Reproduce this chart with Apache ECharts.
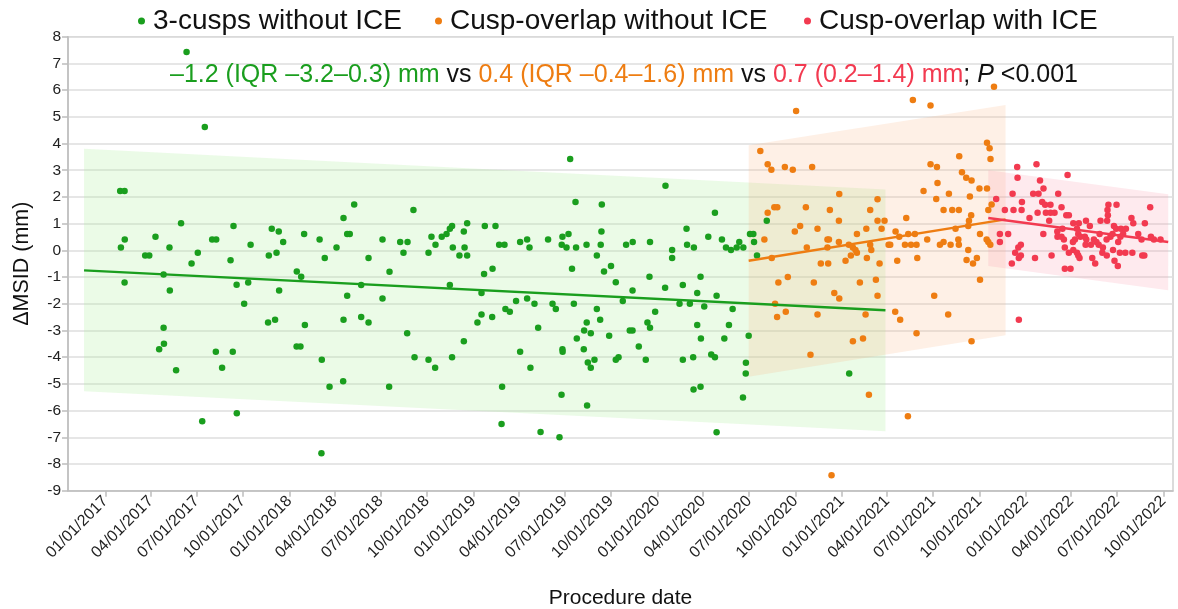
<!DOCTYPE html>
<html>
<head>
<meta charset="utf-8">
<script src="https://cdn.jsdelivr.net/npm/echarts@6/dist/echarts.min.js"></script>
<style>
html,body{margin:0;padding:0;background:#fff;}
#chart{width:1178px;height:609px;}
</style>
</head>
<body>
<div id="chart"></div>
<script>
// ---- DATA (procedure date as decimal year, ΔMSID in mm) ----
const seriesNames = ['3-cusps without ICE', 'Cusp-overlap without ICE', 'Cusp-overlap with ICE'];

const threeCuspsPoints = [
[2017.441,7.43],[2017.540,4.62],[2017.080,2.22],[2017.104,2.22],[2017.411,1.01],[2017.696,0.91],[2017.105,0.41],[2017.084,0.11],[2017.272,0.51],[2017.348,0.11],
[2017.580,0.41],[2017.602,0.41],[2017.502,-0.09],[2017.216,-0.19],[2017.238,-0.19],[2017.680,-0.37],[2017.789,0.21],[2017.904,0.81],[2017.942,0.71],[2017.966,0.31],
[2017.888,-0.19],[2017.930,-0.09],[2018.080,0.61],[2018.164,0.41],[2018.192,-0.29],[2018.256,0.11],[2017.468,-0.49],[2017.104,-1.20],[2017.316,-0.90],[2017.350,-1.50],
[2017.713,-1.29],[2017.776,-1.20],[2017.754,-2.00],[2018.040,-0.79],[2018.064,-0.99],[2017.944,-1.50],[2017.884,-2.70],[2017.922,-2.60],[2018.084,-2.80],[2017.316,-2.90],
[2017.318,-3.50],[2017.292,-3.70],[2017.600,-3.80],[2017.692,-3.80],[2017.634,-4.40],[2017.384,-4.49],[2018.039,-3.60],[2018.060,-3.60],[2018.176,-4.10],[2018.218,-5.11],
[2017.714,-6.10],[2017.526,-6.40],[2018.174,-7.60],
[2019.526,3.42],[2019.555,1.81],[2019.698,1.72],[2018.352,1.72],[2018.674,1.51],[2018.294,1.21],[2018.314,0.61],[2018.328,0.61],[2018.506,0.41],[2018.602,0.31],
[2018.642,0.31],[2018.620,-0.09],[2018.430,-0.29],[2018.756,-0.09],[2018.772,0.51],[2018.794,0.21],[2018.828,0.51],[2018.854,0.61],[2018.872,0.81],[2018.884,0.91],
[2018.966,1.01],[2018.948,0.71],[2018.888,0.11],[2018.952,0.11],[2018.924,-0.19],[2018.966,-0.19],[2019.062,0.91],[2019.120,0.91],[2019.140,0.21],[2019.169,0.21],
[2019.254,0.31],[2019.292,0.41],[2019.305,0.11],[2019.406,0.41],[2019.484,0.51],[2019.517,0.61],[2019.480,0.21],[2019.506,0.11],[2019.558,0.11],[2019.615,0.21],
[2019.696,0.71],[2019.692,0.21],[2019.671,-0.19],
[2018.544,-0.80],[2018.390,-1.30],[2018.314,-1.70],[2018.506,-1.80],[2018.294,-2.60],[2018.390,-2.50],[2018.430,-2.70],[2018.640,-3.10],[2018.680,-4.00],[2018.756,-4.10],
[2018.792,-4.40],[2018.884,-4.00],[2018.292,-4.90],[2018.542,-5.11],[2018.872,-1.30],[2019.058,-0.89],[2019.104,-0.69],[2019.044,-1.60],[2019.044,-2.40],[2019.022,-2.70],
[2019.102,-2.50],[2018.948,-3.40],[2019.174,-2.20],[2019.198,-2.30],[2019.232,-1.90],[2019.292,-1.80],[2019.332,-2.00],[2019.352,-2.90],[2019.254,-3.80],[2019.310,-4.40],
[2019.156,-5.11],[2019.153,-6.50],[2019.365,-6.80],[2019.468,-7.00],[2019.430,-2.00],[2019.448,-2.20],[2019.536,-0.69],[2019.546,-2.00],[2019.484,-3.70],[2019.485,-3.80],
[2019.479,-5.41],[2019.562,-3.30],[2019.602,-3.00],[2019.616,-2.70],[2019.638,-3.10],[2019.600,-3.70],[2019.658,-4.10],[2019.622,-4.20],[2019.638,-4.40],[2019.618,-5.81],
[2019.671,-2.20],[2019.689,-2.60],[2019.738,-3.20],[2019.710,-0.79],[2019.748,-0.59],[2019.774,-1.19],[2019.774,-4.10],[2019.789,-4.00],
[2020.044,2.42],[2019.830,0.21],[2019.866,0.31],[2019.960,0.31],[2020.080,0.01],[2020.080,-0.29],[2020.158,0.81],[2020.312,1.41],[2020.161,0.21],[2020.198,0.11],
[2020.276,0.51],[2020.350,0.41],[2020.372,0.11],[2020.399,0.01],[2020.430,0.11],[2020.444,0.31],[2020.466,0.11],[2020.502,0.61],[2020.520,0.61],[2020.593,1.11],
[2020.524,0.31],[2020.540,-0.19],
[2019.957,-0.99],[2019.865,-1.50],[2019.812,-1.90],[2020.042,-1.40],[2020.138,-1.30],[2020.234,-0.99],[2020.216,-1.60],[2020.321,-1.70],[2020.120,-2.00],[2020.176,-2.00],
[2020.254,-2.10],[2019.988,-2.30],[2020.408,-2.20],[2019.946,-2.70],[2019.960,-2.90],[2019.850,-3.00],[2019.865,-3.00],[2019.899,-3.60],[2019.937,-4.10],[2020.216,-2.80],
[2020.236,-3.30],[2020.388,-2.80],[2020.363,-3.30],[2020.495,-3.20],[2020.138,-4.10],[2020.194,-4.00],[2020.292,-3.90],[2020.312,-4.00],[2020.480,-4.21],[2020.479,-4.61],
[2020.464,-5.51],[2020.196,-5.21],[2020.234,-5.11],[2020.321,-6.81],[2021.040,-4.61]
];

const overlapNoIcePoints = [
[2020.752,5.22],[2020.558,3.72],[2020.598,3.22],[2020.618,3.02],[2020.691,3.12],[2020.734,3.02],[2020.839,3.12],[2020.598,1.41],[2020.634,1.61],[2020.650,1.61],
[2020.580,0.41],[2020.745,0.71],[2020.774,0.91],[2020.805,1.61],[2020.868,0.81],[2020.810,0.11],[2020.986,2.11],[2020.935,1.51],[2020.984,1.11],[2020.922,0.41],
[2020.930,0.41],[2020.922,0.11],[2020.984,0.31],[2021.038,0.21],[2021.060,0.11],[2021.082,0.61],[2021.133,0.81],[2021.074,0.01],[2021.082,-0.09],[2021.154,1.51],
[2021.194,1.91],[2021.194,1.11],[2021.232,1.11],[2021.216,0.81],[2021.154,0.21],[2021.160,0.01],[2021.254,0.21],[2021.263,0.21],[2021.292,0.71],[2021.049,-0.19],
[2021.136,-0.29],
[2020.620,-0.29],[2020.656,-1.20],[2020.707,-1.00],[2020.638,-2.00],[2020.649,-2.50],[2020.696,-2.30],[2020.848,-1.20],[2020.868,-2.40],[2020.886,-0.49],[2020.926,-0.49],
[2020.830,-3.91],[2020.959,-1.60],[2020.986,-1.80],[2021.020,-0.39],[2021.098,-1.20],[2021.205,-0.49],[2021.185,-1.10],[2021.194,-1.70],[2021.129,-2.40],[2021.060,-3.40],
[2021.115,-3.30],[2021.147,-5.41],[2020.944,-8.42],[2021.290,-2.30],[2021.317,-2.60],[2021.301,-0.39],
[2021.827,6.13],[2021.386,5.63],[2021.482,5.42],[2021.789,4.03],[2021.803,3.82],[2021.808,3.42],[2021.638,3.52],[2021.482,3.22],[2021.517,3.12],[2021.653,2.92],
[2021.676,2.72],[2021.705,2.62],[2021.520,2.52],[2021.444,2.22],[2021.582,2.12],[2021.748,2.32],[2021.789,2.32],[2021.696,2.02],[2021.513,1.92],[2021.814,1.72],
[2021.350,1.21],[2021.553,1.51],[2021.600,1.51],[2021.636,1.51],[2021.703,1.31],[2021.796,1.51],[2021.691,1.11],[2021.618,0.81],[2021.687,0.91],[2021.751,0.61],
[2021.361,0.61],[2021.397,0.61],[2021.312,0.51],[2021.343,0.21],[2021.376,0.21],[2021.406,0.21],[2021.464,0.41],[2021.533,0.21],[2021.553,0.31],[2021.591,0.21],
[2021.633,0.41],[2021.636,0.21],[2021.687,0.01],[2021.787,0.41],[2021.796,0.31],[2021.807,0.21],[2021.410,-0.29],[2021.678,-0.36],[2021.734,-0.29],[2021.713,-0.49],
[2021.751,-1.10],[2021.502,-1.70],[2021.578,-2.40],[2021.406,-3.10],[2021.705,-3.40],[2021.359,-6.21]
];

const overlapIcePoints = [
[2022.058,3.22],[2021.953,3.12],[2021.955,2.72],[2022.227,2.82],[2022.077,2.62],[2022.096,2.32],[2022.040,2.12],[2022.069,2.12],[2021.928,2.12],[2022.176,2.12],
[2021.839,1.92],[2021.886,1.51],[2021.933,1.51],[2021.977,1.51],[2021.979,1.81],[2022.089,1.81],[2022.105,1.71],[2022.134,1.71],[2022.064,1.41],[2022.109,1.41],
[2022.134,1.41],[2022.156,1.41],[2022.020,1.21],[2022.127,1.11],[2022.194,1.61],[2022.220,1.31],[2022.234,1.31],[2022.258,1.01],[2022.288,1.01],[2022.327,1.11],
[2022.348,0.91],[2022.406,1.11],[2022.444,1.51],[2022.446,1.31],[2022.449,1.71],[2022.493,1.71],[2022.442,1.11],[2022.574,1.21],[2022.584,1.01],[2022.647,1.01],
[2022.676,1.61],[2022.479,0.91],[2022.491,0.81],[2022.517,0.81],[2022.544,0.81],[2022.199,0.81],[2022.171,0.71],[2022.172,0.51],[2022.278,0.81],[2022.285,0.61],
[2022.297,0.51],[2022.321,0.51],[2022.194,0.51],[2022.207,0.41],[2022.095,0.61],[2021.859,0.61],[2021.904,0.61],[2021.859,0.31],[2022.401,0.61],[2022.439,0.41],
[2022.460,0.51],[2022.471,0.61],[2022.370,0.41],[2022.384,0.31],[2022.256,0.31],[2022.267,0.41],[2022.329,0.41],[2022.325,0.21],[2022.354,0.21],[2022.396,0.21],
[2022.419,0.11],[2022.502,0.31],[2022.514,0.51],[2022.529,0.61],[2022.611,0.61],[2022.629,0.41],[2022.680,0.51],[2022.696,0.41],[2022.732,0.41],[2021.942,-0.09],
[2021.959,0.11],[2021.973,0.21],[2022.258,0.01],[2022.278,-0.09],[2022.285,-0.19],[2022.212,0.11],[2022.234,-0.09],[2022.416,-0.09],[2022.440,-0.19],[2022.474,0.01],
[2022.541,-0.09],[2022.579,-0.09],[2022.633,-0.19],[2022.140,-0.19],[2021.973,-0.19],[2021.962,-0.29],[2021.924,-0.49],[2022.050,-0.29],[2022.292,-0.29],[2022.212,-0.69],
[2022.243,-0.69],[2022.361,-0.29],[2022.377,-0.49],[2022.482,-0.39],[2022.500,-0.59],[2022.511,-0.09],[2022.644,-0.19],[2021.962,-2.60]
];

// regression lines: [start, end]
const threeCuspsTrendDate = [2016.884, 2021.237];
const threeCuspsTrendMsid = [-0.75, -2.24];
const overlapNoIceTrendDate = [2020.495, 2021.890];
const overlapNoIceTrendMsid = [-0.39, 1.16];
const overlapIceTrendDate = [2021.796, 2022.774];
const overlapIceTrendMsid = [1.21, 0.31];

// prediction bands: [start, end]
const threeCuspsBandLow = [-5.28, -6.77];
const threeCuspsBandHigh = [3.80, 2.28];
const overlapNoIceBandLow = [-4.73, -3.18];
const overlapNoIceBandHigh = [3.94, 5.44];
const overlapIceBandLow = [-0.59, -1.49];
const overlapIceBandHigh = [3.00, 2.10];

const xTickLabels = ['01/01/2017','04/01/2017','07/01/2017','10/01/2017','01/01/2018','04/01/2018','07/01/2018','10/01/2018',
  '01/01/2019','04/01/2019','07/01/2019','10/01/2019','01/01/2020','04/01/2020','07/01/2020','10/01/2020',
  '01/01/2021','04/01/2021','07/01/2021','10/01/2021','01/01/2022','04/01/2022','07/01/2022','10/01/2022'];
const xRange = [2016.797, 2022.800];

// ---- helpers ----
const DAY = 86400000;
function yearToTime(y) {
  const yr = Math.floor(y);
  const s = Date.UTC(yr, 0, 1), e = Date.UTC(yr + 1, 0, 1);
  return (s + (y - yr) * (e - s)) / DAY;   // days since epoch
}
function labelToTime(s) {
  const p = s.split('/');
  return Date.UTC(+p[2], +p[0] - 1, +p[1]) / DAY;
}
const tickTimes = xTickLabels.map(labelToTime);
const toData = pts => pts.map(p => [yearToTime(p[0]), p[1]]);
const trend = (d, v) => d.map((x, i) => [yearToTime(x), v[i]]);

const GREEN = '#1a9e1e', ORANGE = '#ee7d12', RED = '#f23a50';
const FONT = '"Liberation Sans", Arial, Helvetica, sans-serif';

function bandSeries(dates, low, high, fill) {
  const data = dates.map((d, i) => [yearToTime(d), low[i], high[i]]);
  return {
    type: 'custom', silent: true, z: 1,
    encode: { x: 0, y: [1, 2] },
    data: data,
    renderItem: function (params, api) {
      if (params.dataIndex !== 0) return null;
      const pts = [
        api.coord([data[0][0], data[0][2]]),
        api.coord([data[1][0], data[1][2]]),
        api.coord([data[1][0], data[1][1]]),
        api.coord([data[0][0], data[0][1]])
      ];
      return { type: 'polygon', shape: { points: pts }, style: { fill: fill } };
    }
  };
}
function lineSeries(data, color) {
  return {
    type: 'line', data: data, symbol: 'none', z: 5, silent: true,
    lineStyle: { color: color, width: 2.5 }
  };
}
function scatterSeries(name, data, color) {
  return {
    name: name, type: 'scatter', data: data, symbolSize: 6.5, z: 3,
    itemStyle: { color: color, opacity: 1 }
  };
}
function legendItem(name, left) {
  return {
    data: [name], left: left, top: 2,
    icon: 'circle', itemWidth: 7, itemHeight: 7,
    textStyle: { fontSize: 28, color: '#111', fontFamily: FONT, padding: [0, 0, 0, 3] }
  };
}

const chart = echarts.init(document.getElementById('chart'), null, { renderer: 'canvas' });
chart.setOption({
  animation: false,
  backgroundColor: '#fff',
  textStyle: { fontFamily: FONT },
  title: {
    left: 165, top: 58,
    text: '{g|\u20131.2 (IQR \u20133.2\u20130.3) mm} {k|vs} {o|0.4 (IQR \u20130.4\u20131.6) mm} {k|vs} {r|0.7 (0.2\u20131.4) mm}{k|; }{p|P}{k| <0.001}',
    textStyle: {
      fontSize: 25, fontFamily: FONT, fontWeight: 'normal',
      rich: {
        g: { color: GREEN, fontSize: 25, fontFamily: FONT },
        o: { color: ORANGE, fontSize: 25, fontFamily: FONT },
        r: { color: RED, fontSize: 25, fontFamily: FONT },
        k: { color: '#111', fontSize: 25, fontFamily: FONT },
        p: { color: '#111', fontSize: 25, fontFamily: FONT, fontStyle: 'italic' }
      }
    }
  },
  legend: [
    legendItem(seriesNames[0], 133),
    legendItem(seriesNames[1], 430),
    legendItem(seriesNames[2], 799)
  ],
  grid: { left: 68, right: 5, top: 36.7, bottom: 118.3, outerBoundsMode: 'none', containLabel: false,
          show: true, borderColor: '#cfcfcf', borderWidth: 1.5 },
  xAxis: {
    type: 'value',
    min: yearToTime(xRange[0]), max: yearToTime(xRange[1]),
    name: 'Procedure date', nameLocation: 'middle', nameGap: 97,
    nameTextStyle: { fontSize: 21, color: '#111', fontFamily: FONT },
    axisLine: { show: true, onZero: false, lineStyle: { color: '#bdbdbd', width: 1.5 } },
    axisTick: { show: true, length: 6, customValues: tickTimes, lineStyle: { color: '#bdbdbd', width: 1.5 } },
    axisLabel: {
      customValues: tickTimes, rotate: 45, fontSize: 16, color: '#222', margin: 8, fontFamily: FONT,
      formatter: function (val) {
        let best = 0;
        for (let i = 1; i < tickTimes.length; i++) {
          if (Math.abs(tickTimes[i] - val) < Math.abs(tickTimes[best] - val)) best = i;
        }
        return xTickLabels[best];
      }
    },
    splitLine: { show: false }
  },
  yAxis: {
    type: 'value', min: -9, max: 8, interval: 1,
    name: '\u0394MSID (mm)', nameLocation: 'middle', nameGap: 35, nameRotate: 90,
    nameTextStyle: { fontSize: 21.5, color: '#111', fontFamily: FONT },
    axisLine: { show: true, onZero: false, lineStyle: { color: '#bdbdbd', width: 1.5 } },
    axisTick: { show: true, length: 6, lineStyle: { color: '#bdbdbd', width: 1.5 } },
    axisLabel: { fontSize: 15.5, color: '#222', margin: 7, fontFamily: FONT },
    splitLine: { show: true, lineStyle: { color: '#dedede', width: 1.5 } }
  },
  series: [
    bandSeries(threeCuspsTrendDate, threeCuspsBandLow, threeCuspsBandHigh, 'rgba(176,240,160,0.25)'),
    bandSeries(overlapNoIceTrendDate, overlapNoIceBandLow, overlapNoIceBandHigh, 'rgba(250,180,130,0.2)'),
    bandSeries(overlapIceTrendDate, overlapIceBandLow, overlapIceBandHigh, 'rgba(250,150,170,0.2)'),
    scatterSeries(seriesNames[0], toData(threeCuspsPoints), GREEN),
    scatterSeries(seriesNames[1], toData(overlapNoIcePoints), ORANGE),
    scatterSeries(seriesNames[2], toData(overlapIcePoints), RED),
    lineSeries(trend(threeCuspsTrendDate, threeCuspsTrendMsid), GREEN),
    lineSeries(trend(overlapNoIceTrendDate, overlapNoIceTrendMsid), ORANGE),
    lineSeries(trend(overlapIceTrendDate, overlapIceTrendMsid), RED)
  ]
});
</script>
</body>
</html>
